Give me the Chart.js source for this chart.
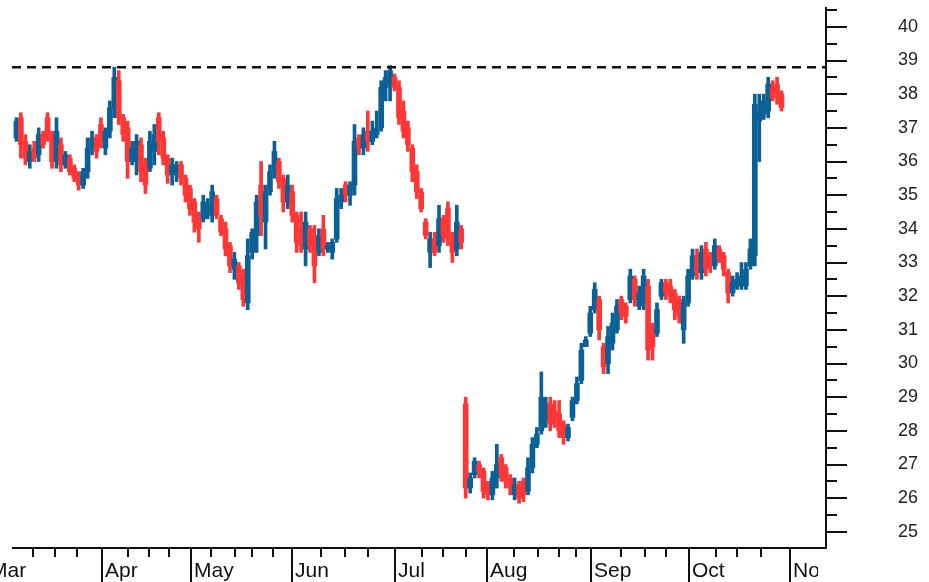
<!DOCTYPE html>
<html>
<head>
<meta charset="utf-8">
<title>Cours journalier</title>
<script src="https://cdn.jsdelivr.net/npm/chart.js@4.4.1/dist/chart.umd.min.js"></script>
<style>
  html, body { margin: 0; padding: 0; background: #fff; overflow: hidden; }
  #wrap { width: 929px; height: 582px; position: relative; }
  #chart { display: block; width: 929px; height: 582px; }
</style>
</head>
<body>
<div id="wrap"><canvas id="chart" width="929" height="582"></canvas></div>
<script>
// Séances (Mar -> fin Oct)
const opens = [
  36.7,37.3,36.6,36.0,36.4,36.2,36.8,37.3,36.8,36.0, 36.5,35.9,36.1,35.8,35.6,35.3,35.7,36.4,36.7,37.1,
  36.4,36.9,37.6,38.4,37.3,37.0,36.0,36.0,36.5,35.9, 35.8,36.3,37.3,36.7,36.1,35.6,35.7,35.9,35.5,35.2,
  34.8,34.3,34.3,34.5,34.4,34.9,34.3,34.0,33.5,32.8, 32.9,32.6,31.8,33.3,33.8,35.3,34.2,35.1,35.7,36.0,
  35.5,34.8,35.1,34.4,34.0,33.4,34.0,33.8,33.3,34.0, 33.4,33.3,33.7,34.8,35.3,35.0,35.3,36.7,36.4,36.9,
  36.6,36.8,37.0,38.2,38.3,38.5,38.2,37.5,37.0,36.4, 35.7,35.1,34.2,33.3,33.7,33.5,34.3,34.6,33.7,33.4,
  34.0,28.8,26.3,26.7,27.0,26.8,26.4,26.1,26.6,27.2, 26.9,26.6,26.1,26.4,26.5,26.2,26.9,27.6,28.0,28.3,
  28.8,28.6,28.5,28.2,27.8,28.4,28.9,29.5,30.5,30.9, 31.6,31.9,30.5,30.0,30.6,31.0,31.9,31.7,31.9,32.5,
  31.7,31.8,32.3,31.0,30.9,32.0,32.4,32.3,32.1,31.9, 31.0,31.8,32.6,33.2,32.7,33.4,33.2,32.9,33.4,33.2,
  32.7,32.1,32.3,32.3,32.3,32.9,33.2,37.2,37.4,37.5, 38.2,38.3,38.0
];
const highs = [
  37.3,37.45,36.8,36.5,36.6,37.0,36.9,37.45,36.9,37.3, 36.7,36.3,36.2,35.9,35.7,35.8,36.7,36.9,36.8,37.3,
  37.0,37.8,38.8,38.7,37.4,37.2,36.6,36.8,36.7,36.1, 36.9,37.1,37.45,36.9,36.2,36.1,36.0,36.0,35.6,35.3,
  34.9,34.5,35.0,34.9,35.3,35.0,34.4,34.2,33.6,33.3, 33.0,32.8,33.7,34.0,35.0,36.0,35.3,35.9,36.6,36.1,
  35.6,35.6,35.3,34.5,34.5,34.5,34.1,34.1,34.0,34.4, 33.6,33.7,35.2,35.2,35.4,35.4,37.1,36.8,37.0,37.5,
  37.2,37.5,38.4,38.7,38.85,38.6,38.4,37.8,37.2,36.5, 35.9,35.2,34.3,33.9,33.9,34.7,34.4,34.8,33.9,34.7,
  34.1,29.0,26.75,27.2,27.1,26.9,26.5,26.8,27.6,27.3, 27.0,26.7,26.6,26.5,26.6,27.2,27.8,28.1,29.75,29.0,
  29.0,28.9,28.9,28.3,28.2,29.0,29.6,30.6,30.8,31.7, 32.4,32.0,30.6,31.1,31.5,31.9,32.0,31.8,32.8,32.6,
  32.3,32.8,32.5,31.2,31.8,32.5,32.5,32.5,32.2,32.0, 32.0,32.8,33.4,33.4,33.5,33.6,33.3,33.7,33.5,33.3,
  32.8,32.6,32.7,33.0,33.0,33.7,38.0,38.0,38.0,38.5, 38.4,38.5,38.1
];
const lows = [
  36.6,36.1,35.9,35.8,36.0,36.0,36.4,36.6,35.8,35.8, 35.7,35.8,35.6,35.4,35.15,35.2,35.5,36.2,36.1,36.4,
  36.2,36.7,37.3,37.1,36.6,35.5,35.9,35.6,35.4,35.05, 35.7,35.9,36.2,35.9,35.35,35.3,35.4,35.3,34.8,34.4,
  33.9,33.6,34.2,34.3,34.2,34.3,33.8,33.2,32.7,32.5, 32.2,31.7,31.6,33.1,33.3,33.8,33.4,35.0,35.5,35.2,
  34.5,34.6,34.2,33.3,33.3,32.9,33.3,32.4,33.2,33.2, 33.3,33.1,33.6,34.6,34.8,34.7,35.0,36.2,36.2,36.3,
  36.5,36.7,36.9,37.8,37.8,38.1,37.1,36.7,36.3,35.4, 34.9,34.5,33.7,32.85,33.2,33.3,33.6,33.5,33.0,33.2,
  33.4,26.0,26.15,26.6,26.6,26.0,25.95,25.95,26.3,26.5, 26.3,26.1,25.95,25.85,25.9,26.1,26.75,27.5,27.9,28.1,
  28.0,28.1,27.8,27.6,27.7,28.3,28.8,29.4,30.5,30.8, 31.5,30.7,29.7,29.7,30.4,30.9,31.3,31.2,31.8,31.7,
  31.6,31.6,30.1,30.1,30.8,31.9,31.9,31.8,31.3,31.2, 30.6,31.7,32.5,32.5,32.5,32.6,32.7,32.8,33.0,32.6,
  31.8,32.0,32.2,32.2,32.2,32.8,32.9,36.0,37.25,37.3, 37.8,37.7,37.5
];
const closes = [
  37.2,36.5,36.1,36.3,36.1,36.8,36.5,36.8,36.0,36.9, 35.9,36.2,35.7,35.5,35.3,35.7,36.4,36.7,36.3,36.6,
  36.9,37.6,38.5,37.3,36.8,36.0,36.4,36.6,35.7,35.3, 36.6,36.8,36.6,36.1,35.6,35.9,35.9,35.5,35.0,34.6,
  34.2,34.0,34.8,34.7,35.1,34.4,33.9,33.4,32.9,33.1, 32.4,31.9,33.2,33.9,34.8,34.4,35.1,35.7,36.3,35.4,
  34.8,35.3,34.4,33.6,33.5,34.2,33.5,32.9,33.8,33.4, 33.5,33.6,34.9,35.0,35.0,35.3,36.6,36.4,36.8,36.6,
  36.9,37.0,38.2,38.5,38.7,38.2,37.3,36.9,36.5,35.7, 35.1,34.6,33.8,33.7,33.3,34.3,33.8,33.7,33.3,34.2,
  33.6,26.3,26.6,27.1,26.8,26.2,26.1,26.6,27.0,26.7, 26.5,26.3,26.4,26.0,26.1,26.9,27.6,27.9,29.0,28.8,
  28.2,28.4,28.0,27.8,28.1,28.9,29.4,30.4,30.7,31.5, 32.2,31.0,29.9,30.8,31.2,31.7,31.5,31.4,32.6,31.9,
  32.1,32.6,30.4,30.5,31.6,32.4,32.1,32.0,31.6,31.4, 31.8,32.6,33.2,32.7,33.3,32.8,32.9,33.5,33.1,32.8,
  32.1,32.4,32.5,32.6,32.8,33.4,37.7,37.5,37.8,38.3, 37.9,38.0,37.6
];

// Axe X : repères de mois et de semaines (en n° de séance)
const monthLabels = ["Mar", "Apr", "May", "Jun", "Jul", "Aug", "Sep", "Oct", "Nov"];
const monthStarts = [-5.6, 20.2, 40.2, 62.9, 86.1, 106.7, 130.1, 152.1, 174.8];
const weekTicks = [4.7, 9.7, 14.6, 26.1, 30.8, 35.3, 44.7, 50.1, 53.9, 58.7, 69.4, 74.8, 80,
  92.1, 96.9, 102, 112.8, 118.2, 122.9, 126.7, 136.9, 142.2, 147, 158.2, 162.9, 168.3];

// Axe Y
const yMin = 24.52, yMax = 40.56;
const resistance = 38.8;

const UP = "#0b6196";
const DOWN = "#ff3636";
const FONT = "'Liberation Sans', Arial, sans-serif";

const days = opens.map((_, i) => i + 1);
const colors = days.map((_, i) => closes[i] >= opens[i] ? UP : DOWN);

// Traits des axes (tics longs / courts) dessinés à la main
const axisMarks = {
  id: "axisMarks",
  afterDraw(chart) {
    const { ctx, chartArea: a, scales: { x, y } } = chart;
    ctx.save();
    ctx.strokeStyle = "#111";
    ctx.fillStyle = "#111";
    ctx.lineWidth = 2;

    // ligne de l'axe X
    ctx.beginPath();
    ctx.moveTo(a.left, a.bottom);
    ctx.lineTo(a.right + 1, a.bottom);
    ctx.stroke();

    // tics Y
    for (let v = 25; v <= 40; v++) {
      const py = Math.round(y.getPixelForValue(v));
      ctx.beginPath();
      ctx.moveTo(a.right, py);
      ctx.lineTo(a.right + 21, py);
      ctx.stroke();
      if (v + 0.5 <= yMax) {
        const pm = Math.round(y.getPixelForValue(v + 0.5));
        ctx.beginPath();
        ctx.moveTo(a.right, pm);
        ctx.lineTo(a.right + 11, pm);
        ctx.stroke();
      }
    }

    // tics X + mois
    ctx.beginPath();
    ctx.rect(0, a.bottom - 2, a.right - 8, 60);
    ctx.clip();
    weekTicks.forEach(w => {
      const px = Math.round(x.getPixelForValue(w));
      ctx.beginPath();
      ctx.moveTo(px, a.bottom);
      ctx.lineTo(px, a.bottom + 9);
      ctx.stroke();
    });
    ctx.font = "21px " + FONT;
    ctx.textBaseline = "alphabetic";
    monthStarts.forEach((m, i) => {
      const px = Math.round(x.getPixelForValue(m));
      ctx.beginPath();
      ctx.moveTo(px, a.bottom);
      ctx.lineTo(px, a.bottom + 34);
      ctx.stroke();
      ctx.fillText(monthLabels[i], px + 3, a.bottom + 29);
    });
    ctx.restore();
  }
};

const ctx = document.getElementById("chart").getContext("2d");
new Chart(ctx, {
  data: {
    datasets: [
      {
        type: "bar",
        label: "haut-bas",
        data: days.map((d, i) => ({ x: d, y: [lows[i], highs[i]] })),
        backgroundColor: colors,
        barThickness: 3,
        grouped: false,
        order: 2
      },
      {
        type: "bar",
        label: "ouverture-clôture",
        data: days.map((d, i) => ({ x: d, y: [opens[i], closes[i]] })),
        backgroundColor: colors,
        barThickness: 5,
        grouped: false,
        order: 1
      },
      {
        type: "line",
        label: "résistance",
        data: [{ x: 0, y: resistance }, { x: 183, y: resistance }],
        borderColor: "#111",
        borderWidth: 2.5,
        borderDash: [9, 6],
        pointRadius: 0,
        order: 0
      }
    ]
  },
  options: {
    responsive: false,
    maintainAspectRatio: false,
    animation: false,
    layout: { padding: { left: 12, top: 8, bottom: 34, right: 0 } },
    plugins: { legend: { display: false }, tooltip: { enabled: false } },
    scales: {
      x: {
        type: "linear",
        offset: false,
        min: 0,
        max: 183,
        display: false
      },
      y: {
        position: "right",
        min: yMin,
        max: yMax,
        afterBuildTicks: s => {
          s.ticks = [];
          for (let v = 25; v <= 40; v++) s.ticks.push({ value: v });
        },
        afterFit: s => {
          s.width = 103;
          s.paddingTop = 0;
          s.paddingBottom = 0;
        },
        grid: { drawOnChartArea: false, drawTicks: false },
        border: { color: "#111", width: 2 },
        ticks: {
          padding: 72,
          color: "#222",
          font: { family: FONT, size: 18 }
        }
      }
    }
  },
  plugins: [axisMarks]
});
</script>
</body>
</html>
